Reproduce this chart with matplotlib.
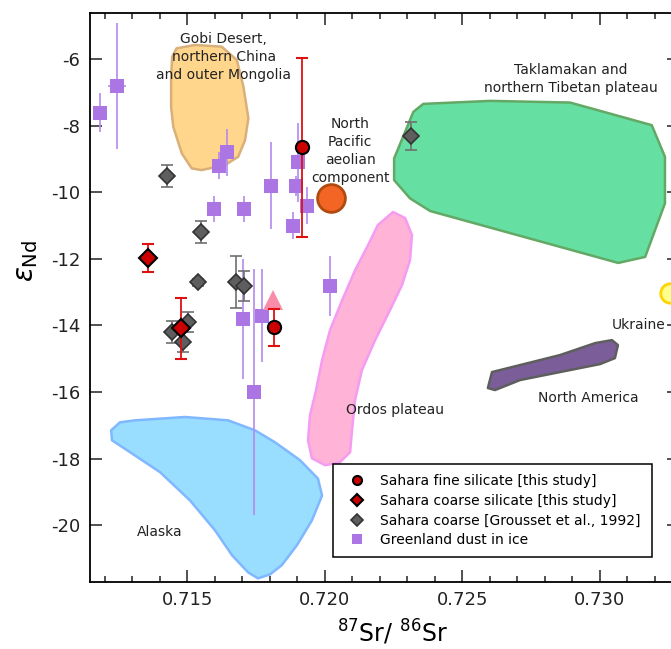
import matplotlib
matplotlib.use("Agg")
import matplotlib.pyplot as plt
from matplotlib.patches import Polygon
from matplotlib.lines import Line2D
from matplotlib.ticker import MultipleLocator, FormatStrFormatter

plt.rcParams['font.family'] = ['DejaVu Sans']
plt.rcParams['mathtext.fontset'] = 'dejavusans'
plt.rcParams['axes.unicode_minus'] = False

# Greenland dust in ice
gl_sr = [0.71183, 0.71243, 0.71643, 0.71616, 0.71598, 0.71707, 0.71804, 0.71901,
         0.71895, 0.71934, 0.71886, 0.71704, 0.71771, 0.71743, 0.72019]
gl_nd = [-7.6, -6.8, -8.8, -9.2, -10.5, -10.5, -9.8, -9.1,
         -9.8, -10.4, -11.0, -13.8, -13.7, -16.0, -12.8]
gl_nd_err = [0.6, 1.9, 0.7, 0.4, 0.4, 0.4, 1.3, 1.2,
             0.3, 0.55, 0.4, 1.8, 1.4, 3.7, 0.9]
gl_sr_err = [0, 0.00033, 0, 0, 0, 0, 0, 0, 0, 0, 0, 0, 0, 0, 0]

# Sahara coarse, Grousset et al. 1992
gr_sr = [0.71425, 0.71550, 0.71539, 0.71676, 0.71707, 0.71443, 0.71504, 0.71485, 0.72313]
gr_nd = [-9.5, -11.2, -12.7, -12.7, -12.8, -14.2, -13.9, -14.5, -8.3]
gr_nd_err = [0.33, 0.33, 0.1, 0.78, 0.45, 0.34, 0.3, 0.3, 0.42]

# Sahara coarse silicate (this study)
cs_sr = [0.71358, 0.71476]
cs_nd = [-11.98, -14.09]
cs_nd_err = [0.42, 0.93]

# Sahara fine silicate (this study)
fs_sr = [0.71918, 0.71815]
fs_nd = [-8.65, -14.06]
fs_nd_err = [2.68, 0.57]

tri_sr, tri_nd = 0.71813, -13.24
npac_sr, npac_nd = 0.72022, -10.18
ukr_sr, ukr_nd = 0.73255, -13.03

# source region outlines (Sr, Nd)
gobi = [(0.71461, -5.67), (0.71528, -5.57), (0.71625, -5.62), (0.71680, -6.02),
        (0.71704, -6.82), (0.71722, -7.77), (0.71710, -8.43), (0.71685, -8.93),
        (0.71637, -9.18), (0.71552, -9.33), (0.71516, -9.28), (0.71480, -8.83),
        (0.71449, -8.03), (0.71441, -7.43), (0.71441, -6.52), (0.71445, -5.92)]
takla = [(0.72358, -7.34), (0.72601, -7.25), (0.72892, -7.30), (0.73189, -7.98),
         (0.73237, -8.93), (0.73237, -10.33), (0.73165, -11.94), (0.73067, -12.12),
         (0.72383, -10.56), (0.72310, -10.18), (0.72252, -9.63), (0.72252, -8.98),
         (0.72322, -7.58)]
ordos = [(0.72248, -10.59), (0.72292, -10.77), (0.72317, -11.28), (0.72310, -12.03),
         (0.72281, -12.78), (0.72237, -13.54), (0.72183, -14.44), (0.72135, -15.34),
         (0.72110, -16.24), (0.72099, -17.15), (0.72092, -17.81), (0.72055, -18.11),
         (0.72001, -18.20), (0.71953, -17.99), (0.71939, -17.45), (0.71946, -16.70),
         (0.71968, -15.95), (0.71990, -15.04), (0.72019, -14.14), (0.72063, -13.24),
         (0.72110, -12.34), (0.72157, -11.59), (0.72193, -10.98)]
n_america = [(0.72593, -15.88), (0.72608, -15.40), (0.72710, -15.19), (0.72855, -14.89),
             (0.72983, -14.53), (0.73044, -14.44), (0.73066, -14.59), (0.73055, -14.98),
             (0.73001, -15.16), (0.72855, -15.40), (0.72710, -15.64), (0.72619, -15.94)]
alaska = [(0.71223, -17.15), (0.71255, -16.91), (0.71310, -16.85), (0.71492, -16.75),
          (0.71648, -16.85), (0.71746, -17.15), (0.71819, -17.51), (0.71910, -18.05),
          (0.71975, -18.60), (0.71990, -19.11), (0.71953, -19.86), (0.71899, -20.60),
          (0.71844, -21.20), (0.71801, -21.48), (0.71757, -21.60), (0.71721, -21.42),
          (0.71663, -20.91), (0.71601, -20.16), (0.71510, -19.26), (0.71401, -18.41),
          (0.71292, -17.81), (0.71226, -17.45)]

fig = plt.figure(figsize=(6.71, 6.49), dpi=100)
ax = fig.add_axes([0.1341, 0.1037, 0.8778, 0.8757])

regions = [
    (gobi, '#FFD68C', '#D9AF7A'),
    (takla, '#66DFA2', '#63A865'),
    (ordos, '#FFB3D6', '#F59BF2'),
    (n_america, '#7B5E99', '#5E5E5E'),
    (alaska, '#99DDFF', '#80B8FF'),
]
for pts, fc, ec in regions:
    ax.add_patch(Polygon(pts, closed=True, facecolor=fc, edgecolor=ec,
                         linewidth=1.8, zorder=1, joinstyle='round'))

ax.errorbar(gl_sr, gl_nd, yerr=gl_nd_err, xerr=gl_sr_err, fmt='s', ms=10.5,
            color='#AB75E4', ecolor='#B48AEB', elinewidth=1.2, capsize=4.5,
            capthick=1.2, mew=0, zorder=3)
ax.errorbar(gr_sr, gr_nd, yerr=gr_nd_err, fmt='D', ms=8.5, mfc='#5E5E5E',
            mec='#333333', mew=1.2, ecolor='#707070', elinewidth=1.2,
            capsize=4.5, capthick=1.2, zorder=4)
ax.errorbar(cs_sr, cs_nd, yerr=cs_nd_err, fmt='D', ms=9, mfc='#CC0000',
            mec='black', mew=1.5, ecolor='#DD1111', elinewidth=1.3,
            capsize=4, capthick=1.3, zorder=5)
ax.errorbar(fs_sr, fs_nd, yerr=fs_nd_err, fmt='o', ms=9.5, mfc='#CC0000',
            mec='black', mew=1.5, ecolor='#DD1111', elinewidth=1.3,
            capsize=4, capthick=1.3, zorder=5)
ax.plot(tri_sr, tri_nd, '^', ms=14, color='#F98CA8', mew=0, zorder=4)
ax.plot(npac_sr, npac_nd, 'o', ms=20, mfc='#F26524', mec='#B04A0E', mew=2, zorder=4)
ax.plot(ukr_sr, ukr_nd, 'o', ms=14, mfc='#FFFF8C', mec='#FFD400', mew=2, zorder=4)

txt = dict(fontsize=10, ha='center', va='center', color='#222222', zorder=6)
ax.text(0.71633, -5.93, 'Gobi Desert,\nnorthern China\nand outer Mongolia',
        linespacing=1.35, **txt)
ax.text(0.72895, -6.58, 'Taklamakan and\nnorthern Tibetan plateau', linespacing=1.35, **txt)
ax.text(0.72092, -8.76, 'North\nPacific\naeolian\ncomponent', linespacing=1.35, **txt)
ax.text(0.73142, -13.99, 'Ukraine', **txt)
ax.text(0.72957, -16.19, 'North America', **txt)
ax.text(0.72255, -16.54, 'Ordos plateau', **txt)
ax.text(0.71401, -20.21, 'Alaska', **txt)

ax.set_xlim(0.71146, 0.73288)
ax.set_ylim(-21.70, -4.62)
ax.xaxis.set_major_locator(MultipleLocator(0.005))
ax.xaxis.set_minor_locator(MultipleLocator(0.001))
ax.xaxis.set_major_formatter(FormatStrFormatter('%.3f'))
ax.yaxis.set_major_locator(MultipleLocator(2))
ax.tick_params(which='both', direction='in', top=True, right=True, width=1.1,
               labelsize=13, colors='#222222')
ax.tick_params(which='major', length=8.5, pad=7)
ax.tick_params(which='minor', length=4)
for sp in ax.spines.values():
    sp.set_linewidth(1.3)

ax.set_xlabel(r'$^{87}\mathrm{Sr}/\ ^{86}\mathrm{Sr}$', fontsize=17)
ax.xaxis.set_label_coords(0.513, -0.064)
ax.set_ylabel(r'$\varepsilon_{\mathrm{Nd}}$', fontsize=20, rotation=90)
ax.yaxis.set_label_coords(-0.085, 0.565)

handles = [
    Line2D([], [], ls='none', marker='o', ms=6.5, mfc='#CC0000', mec='black', mew=1.5),
    Line2D([], [], ls='none', marker='D', ms=6, mfc='#CC0000', mec='black', mew=1.5),
    Line2D([], [], ls='none', marker='D', ms=6, mfc='#5E5E5E', mec='#333333', mew=1.2),
    Line2D([], [], ls='none', marker='s', ms=6.5, color='#AB75E4', mew=0),
]
labels = ['Sahara fine silicate [this study]', 'Sahara coarse silicate [this study]',
          'Sahara coarse [Grousset et al., 1992]', 'Greenland dust in ice']
leg = ax.legend(handles, labels, loc='lower left', bbox_to_anchor=(0.4126, 0.0435, 0.5414, 0.1618),
                mode='expand', fontsize=10, frameon=True, fancybox=False, framealpha=1,
                edgecolor='black', handlelength=2.0, handletextpad=0.65, labelspacing=0.42,
                borderpad=0.7, borderaxespad=0)
leg.get_frame().set_linewidth(1.1)
leg.set_zorder(7)

fig.savefig('out.png', dpi=100)
